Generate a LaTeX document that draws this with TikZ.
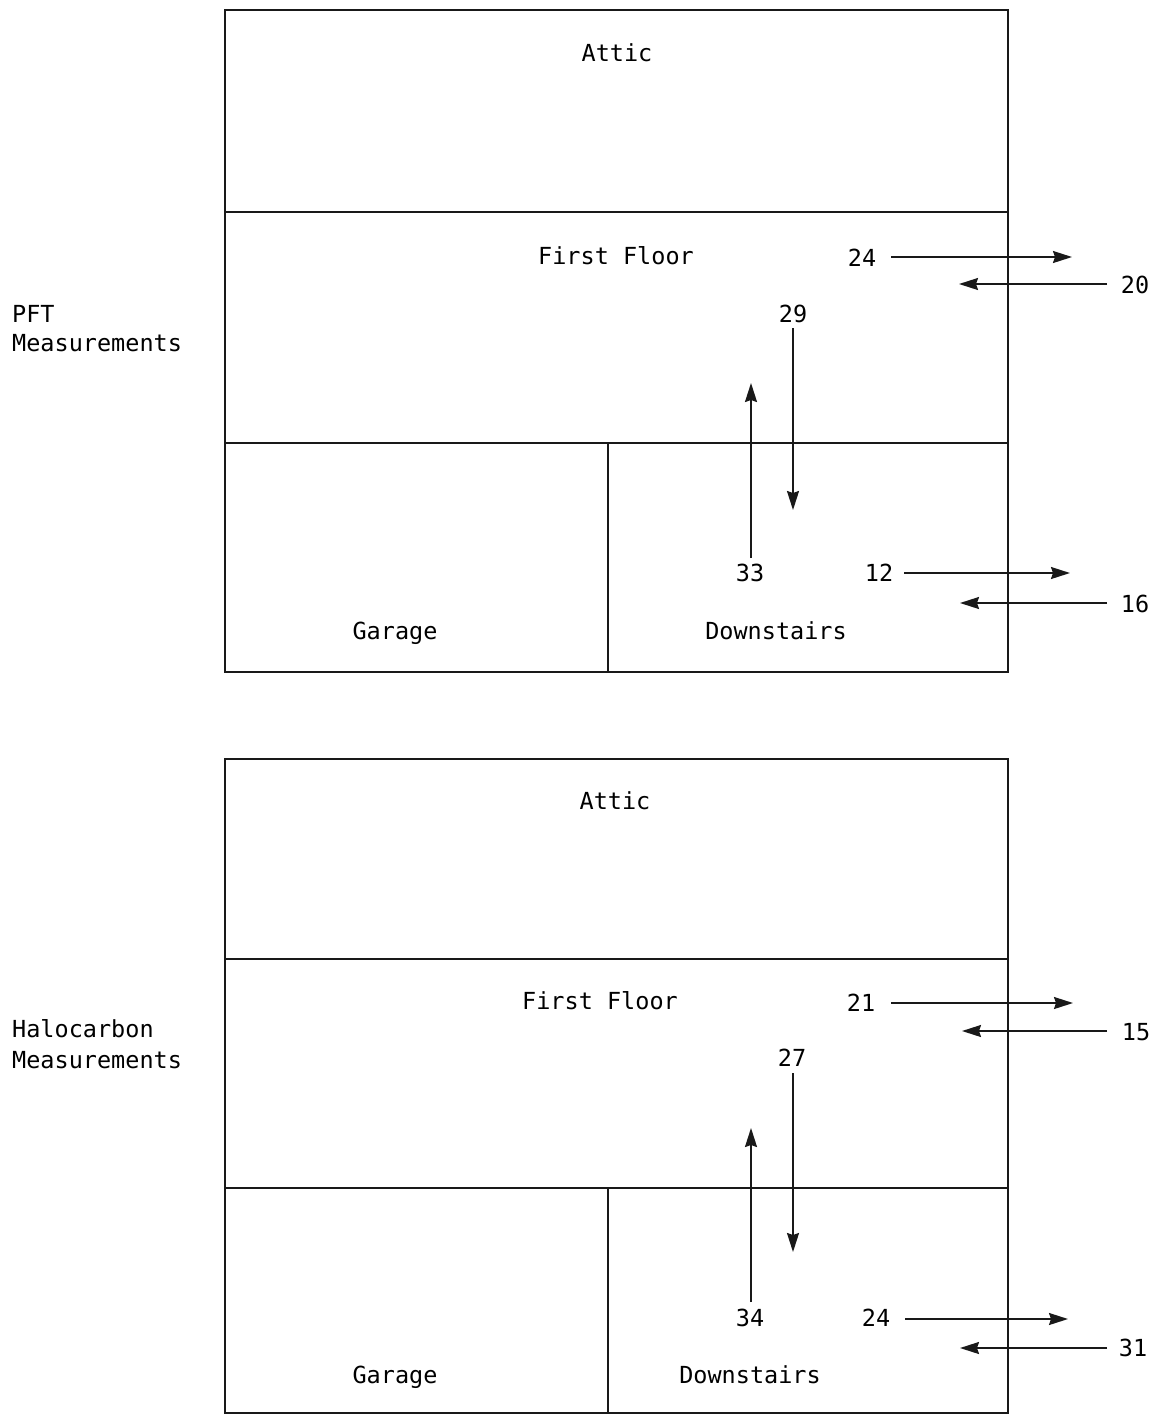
\documentclass[tikz,border=0pt]{standalone}
\usepackage{fontspec}
\usepackage{tikz}
\usetikzlibrary{arrows.meta,positioning}
\newfontfamily\printfont{DejaVu Sans Mono}
\tikzset{
  % outline of the house sections
  wall/.style={line width=2pt, draw=black!90},
  % room and flow labels
  roomlabel/.style={font=\printfont\fontsize{23.5}{28}\selectfont, anchor=base, inner sep=0pt},
  % side caption, left aligned
  sidelabel/.style={font=\printfont\fontsize{23.5}{28}\selectfont, anchor=base west, inner sep=0pt},
  % air flow arrow
  flowarrow/.style={-{Stealth[length=19pt,width=12pt,inset=2pt]}, line width=1.8pt, draw=black!90},
}
\begin{document}
\begin{tikzpicture}[x=1pt,y=-1pt]
  \useasboundingbox (0,0) rectangle (1167,1417);

  % ---- PFT panel ----
  \draw[wall] (225,10) rectangle (1008,672);
  \draw[wall] (225,212) -- (1008,212);
  \draw[wall] (225,443) -- (1008,443);
  \draw[wall] (608,443) -- (608,672);

  \node[roomlabel] (atticA) at (617,61) {Attic};
  \node[roomlabel] (firstA) at (616,264) {First Floor};
  \node[roomlabel] (garageA) at (395,639) {Garage};
  \node[roomlabel] (downA) at (776,639) {Downstairs};
  \node[sidelabel] (pftA) at (12,322) {PFT};
  \node[sidelabel] (measA) at (12,351) {Measurements};

  \node[roomlabel] (outA) at (862,266) {24};
  \node[roomlabel] (inA) at (1135,293) {20};
  \node[roomlabel] (dnA) at (793,322) {29};
  \node[roomlabel] (upA) at (750,581) {33};
  \node[roomlabel] (outB) at (879,581) {12};
  \node[roomlabel] (inB) at (1135,612) {16};

  \coordinate (outAs) at (891,257);  \coordinate (outAe) at (1072,257);
  \coordinate (inAs) at (1107,284);  \coordinate (inAe) at (959,284);
  \coordinate (dnAs) at (793,328);   \coordinate (dnAe) at (793,510);
  \coordinate (upAs) at (751,558);   \coordinate (upAe) at (751,383);
  \coordinate (outBs) at (904,573);  \coordinate (outBe) at (1070,573);
  \coordinate (inBs) at (1107,603);  \coordinate (inBe) at (960,603);

  \draw[flowarrow] (outAs) -- (outAe);
  \draw[flowarrow] (inAs) -- (inAe);
  \draw[flowarrow] (dnAs) -- (dnAe);
  \draw[flowarrow] (upAs) -- (upAe);
  \draw[flowarrow] (outBs) -- (outBe);
  \draw[flowarrow] (inBs) -- (inBe);

  % ---- Halocarbon panel ----
  \draw[wall] (225,759) rectangle (1008,1413);
  \draw[wall] (225,959) -- (1008,959);
  \draw[wall] (225,1188) -- (1008,1188);
  \draw[wall] (608,1188) -- (608,1413);

  \node[roomlabel] (atticB) at (615,809) {Attic};
  \node[roomlabel] (firstB) at (600,1009) {First Floor};
  \node[roomlabel] (garageB) at (395,1383) {Garage};
  \node[roomlabel] (downB) at (750,1383) {Downstairs};
  \node[sidelabel] (haloB) at (12,1037) {Halocarbon};
  \node[sidelabel] (measB) at (12,1068) {Measurements};

  \node[roomlabel] (outC) at (861,1011) {21};
  \node[roomlabel] (inC) at (1136,1040) {15};
  \node[roomlabel] (dnC) at (792,1066) {27};
  \node[roomlabel] (upC) at (750,1326) {34};
  \node[roomlabel] (outD) at (876,1326) {24};
  \node[roomlabel] (inD) at (1133,1356) {31};

  \coordinate (outCs) at (891,1003);  \coordinate (outCe) at (1073,1003);
  \coordinate (inCs) at (1107,1031);  \coordinate (inCe) at (962,1031);
  \coordinate (dnCs) at (793,1073);   \coordinate (dnCe) at (793,1252);
  \coordinate (upCs) at (751,1302);   \coordinate (upCe) at (751,1128);
  \coordinate (outDs) at (905,1319);  \coordinate (outDe) at (1068,1319);
  \coordinate (inDs) at (1107,1348);  \coordinate (inDe) at (960,1348);

  \draw[flowarrow] (outCs) -- (outCe);
  \draw[flowarrow] (inCs) -- (inCe);
  \draw[flowarrow] (dnCs) -- (dnCe);
  \draw[flowarrow] (upCs) -- (upCe);
  \draw[flowarrow] (outDs) -- (outDe);
  \draw[flowarrow] (inDs) -- (inDe);
\end{tikzpicture}
\end{document}
